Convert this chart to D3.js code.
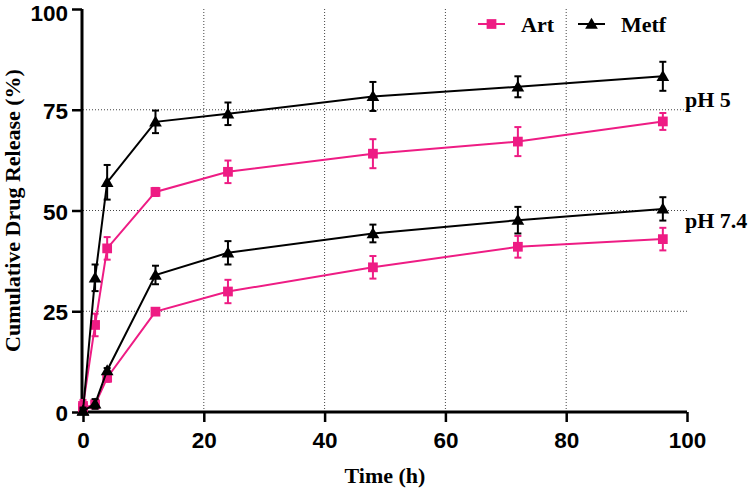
<!DOCTYPE html>
<html>
<head>
<meta charset="utf-8">
<script src="https://cdn.jsdelivr.net/npm/d3@7"></script>
<style>
  html, body { margin: 0; padding: 0; background: #fff; }
  svg { display: block; }
</style>
</head>
<body>
<svg id="chart" width="750" height="490"></svg>
<script>
// ---- data ----
const time = [0, 2, 4, 12, 24, 48, 72, 96];
const artPH5 = [1.5, 21.6, 40.6, 54.6, 59.6, 64.1, 67.1, 72.1];
const artPH5Err = [1.5, 2.8, 2.8, 1.0, 2.8, 3.6, 3.6, 2.1];
const metfPH5 = [0.3, 33.3, 57.0, 72.0, 74.0, 78.3, 80.7, 83.3];
const metfPH5Err = [0.8, 3.3, 4.3, 2.8, 2.8, 3.6, 2.6, 3.6];
const artPH74 = [1.0, 1.9, 8.5, 24.9, 29.9, 35.9, 41.0, 42.9];
const artPH74Err = [1.2, 1.0, 1.0, 0.8, 2.9, 2.8, 2.7, 2.8];
const metfPH74 = [0.2, 2.0, 10.3, 34.0, 39.5, 44.3, 47.6, 50.4];
const metfPH74Err = [0.5, 1.2, 0.6, 2.3, 2.9, 2.2, 3.3, 2.9];
const xTicks = [0, 20, 40, 60, 80, 100];
const yTicks = [0, 25, 50, 75, 100];
const legendLabels = ["Art", "Metf"];
const phLabels = ["pH 5", "pH 7.4"];
const phAnchor = [75.8, 45.7]; // y value of the pH label baseline

const PINK = "#EE1C84";
const BLACK = "#000";

const svg = d3.select("#chart");
const x = d3.scaleLinear().domain([0, 100]).range([83, 687]);
const y = d3.scaleLinear().domain([0, 100]).range([412, 9]);

// grid
const grid = svg.append("g");
grid.selectAll(".vg").data([20, 40, 60, 80]).enter().append("line")
  .attr("x1", d => x(d)).attr("x2", d => x(d))
  .attr("y1", y(0)).attr("y2", y(100))
  .attr("stroke", "#444").attr("stroke-width", 1).attr("stroke-dasharray", "1,2");
grid.selectAll(".hg").data([25, 50, 75]).enter().append("line")
  .attr("x1", x(0)).attr("x2", x(100))
  .attr("y1", d => y(d)).attr("y2", d => y(d))
  .attr("stroke", "#444").attr("stroke-width", 1).attr("stroke-dasharray", "1,2");

// axes
const xAxis = d3.axisBottom(x).tickValues(xTicks).tickSize(10).tickPadding(10).tickSizeOuter(0);
const yAxis = d3.axisLeft(y).tickValues(yTicks).tickSize(10).tickPadding(4).tickSizeOuter(0);
const gx = svg.append("g").attr("transform", `translate(0,${y(0)})`).call(xAxis);
const gy = svg.append("g").attr("transform", `translate(${x(0) - 1},0)`).call(yAxis);
[gx, gy].forEach(g => {
  g.select(".domain").attr("stroke", "#000").attr("stroke-width", 3);
  g.selectAll(".tick line").attr("stroke", "#000").attr("stroke-width", 2.5);
  g.selectAll(".tick text").attr("fill", "#000")
    .style("font-family", "'Liberation Sans', Arial, sans-serif")
    .style("font-weight", "bold").style("font-size", "22.5px");
});
gx.select(".domain").attr("d", `M${x(0) - 2.5},0H${x(100)}`);
gy.select(".domain").attr("d", `M0,${y(0) + 1.5}V${y(100)}`);
gy.selectAll(".tick text").attr("dy", d => d === 100 ? "0.5em" : "0.38em");

// axis titles
svg.append("text").attr("x", (x(0) + x(100)) / 2).attr("y", 483)
  .attr("text-anchor", "middle")
  .style("font-family", "'Liberation Serif', 'Times New Roman', serif")
  .style("font-weight", "bold").style("font-size", "22px")
  .text("Time (h)");
svg.append("text")
  .attr("transform", `translate(20,${(y(0) + y(100)) / 2}) rotate(-90)`)
  .attr("text-anchor", "middle")
  .style("font-family", "'Liberation Serif', 'Times New Roman', serif")
  .style("font-weight", "bold").style("font-size", "22px")
  .text("Cumulative Drug Release (%)");

// series
const series = [
  { v: artPH5, e: artPH5Err, c: PINK, m: "square" },
  { v: artPH74, e: artPH74Err, c: PINK, m: "square" },
  { v: metfPH5, e: metfPH5Err, c: BLACK, m: "triangle" },
  { v: metfPH74, e: metfPH74Err, c: BLACK, m: "triangle" }
];
const line = d3.line().x(d => x(d[0])).y(d => y(d[1]));
const sym = {
  square: d3.symbol().type(d3.symbolSquare).size(95),
  triangle: d3.symbol().type(d3.symbolTriangle).size(70)
};

series.forEach(s => {
  const pts = time.map((t, i) => [t, s.v[i], s.e[i]]);
  const g = svg.append("g");
  g.append("path").datum(pts).attr("d", line)
    .attr("fill", "none").attr("stroke", s.c).attr("stroke-width", 2);
  const eb = g.selectAll(".eb").data(pts).enter().append("g");
  eb.append("line")
    .attr("x1", d => x(d[0])).attr("x2", d => x(d[0]))
    .attr("y1", d => y(d[1] + d[2])).attr("y2", d => y(Math.max(0, d[1] - d[2])))
    .attr("stroke", s.c).attr("stroke-width", 2);
  eb.append("line")
    .attr("x1", d => x(d[0]) - 3.5).attr("x2", d => x(d[0]) + 3.5)
    .attr("y1", d => y(d[1] + d[2])).attr("y2", d => y(d[1] + d[2]))
    .attr("stroke", s.c).attr("stroke-width", 2);
  eb.append("line")
    .attr("x1", d => x(d[0]) - 3.5).attr("x2", d => x(d[0]) + 3.5)
    .attr("y1", d => y(Math.max(0, d[1] - d[2]))).attr("y2", d => y(Math.max(0, d[1] - d[2])))
    .attr("stroke", s.c).attr("stroke-width", 2);
  g.selectAll(".mk").data(pts).enter().append("path")
    .attr("d", sym[s.m])
    .attr("transform", d => `translate(${x(d[0])},${y(d[1]) + (s.m === "triangle" ? 1 : 0)})`)
    .attr("fill", s.c);
});

// legend
const leg = [
  { label: legendLabels[0], c: PINK, m: "square", x0: 478 },
  { label: legendLabels[1], c: BLACK, m: "triangle", x0: 578 }
];
leg.forEach(l => {
  const g = svg.append("g");
  g.append("line").attr("x1", l.x0).attr("x2", l.x0 + 27).attr("y1", 24).attr("y2", 24)
    .attr("stroke", l.c).attr("stroke-width", 2);
  g.append("path").attr("d", sym[l.m]).attr("transform", `translate(${l.x0 + 13.5},${24 + (l.m === "triangle" ? 1 : 0)})`)
    .attr("fill", l.c);
  g.append("text").attr("x", l.x0 + 43).attr("y", 32)
    .style("font-family", "'Liberation Serif', 'Times New Roman', serif")
    .style("font-weight", "bold").style("font-size", "22px")
    .text(l.label);
});

// pH labels
phLabels.forEach((t, i) => {
  svg.append("text").attr("x", 685).attr("y", y(phAnchor[i]))
    .style("font-family", "'Liberation Serif', 'Times New Roman', serif")
    .style("font-weight", "bold").style("font-size", "22px")
    .text(t);
});
</script>
</body>
</html>
